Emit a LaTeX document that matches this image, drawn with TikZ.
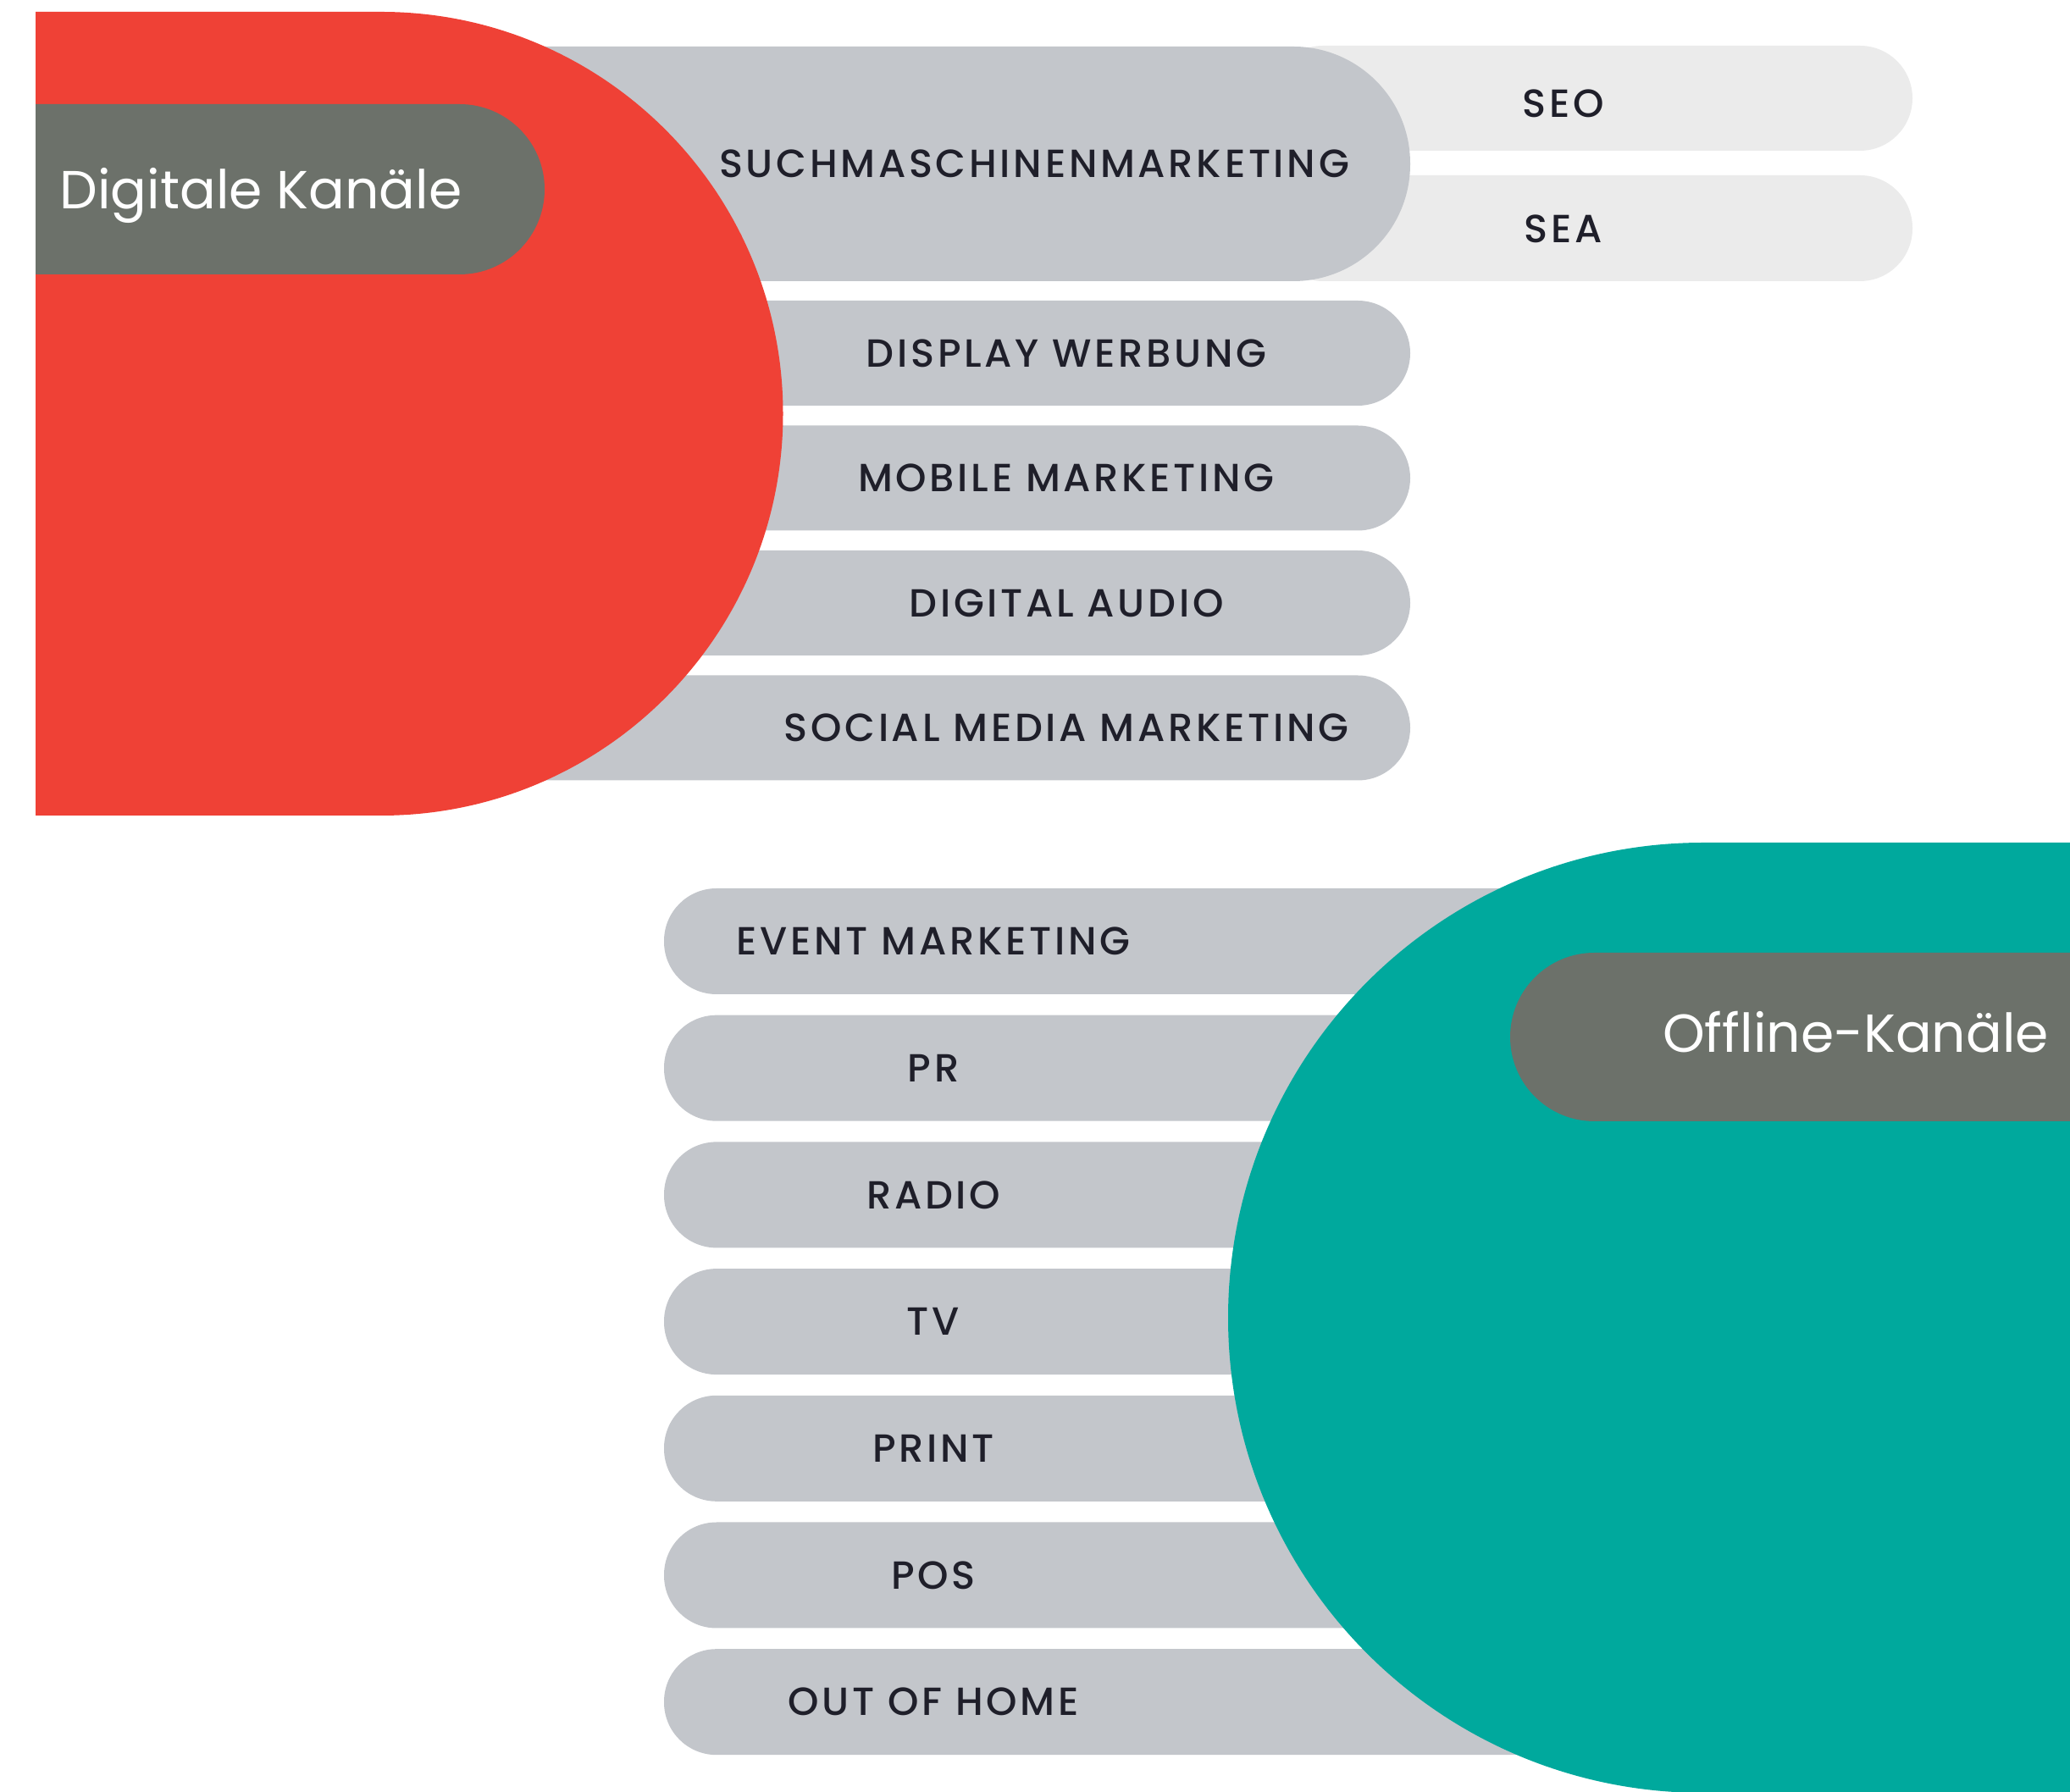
\documentclass[tikz,border=0pt]{standalone}
\usepackage{fontspec}
\setmainfont{Poppins}
\IfFontExistsTF{Poppins Medium}{\newfontfamily\itemfont{Poppins Medium}[LetterSpace=8]}{\newfontfamily\itemfont{Poppins}[LetterSpace=8]}
\usepackage{xcolor}
\usetikzlibrary{positioning}
\definecolor{KanalRed}{HTML}{EF4136}
\definecolor{KanalTeal}{HTML}{00A99D}
\definecolor{HeadGray}{HTML}{6C716A}
\definecolor{PillGray}{HTML}{C3C6CB}
\definecolor{PillLight}{HTML}{EBEBEB}
\definecolor{ItemText}{HTML}{1F1F2A}
\tikzset{
    pill/.style={
        fill=#1,
        rounded corners=0.62cm
    },
    pill/.default=PillGray,
    item/.style={
        font=\itemfont\fontsize{13.2}{16}\selectfont,
        text=ItemText,
        inner sep=0pt,
        anchor=center
    },
    head/.style={
        font=\fontsize{18}{22}\selectfont,
        text=white,
        inner sep=0pt,
        anchor=base
    }
}

\begin{document}
\begin{tikzpicture}
    \useasboundingbox (0,0) rectangle (24.44,21.15);

    % Digital channels: sub items of search marketing
    \fill[pill=PillLight] (15.00,19.37) rectangle (22.58,20.61);
    \fill[pill=PillLight] (15.00,17.83) rectangle (22.58,19.08);

    % Digital channels: items
    \fill[pill, rounded corners=1.38cm] (4.50,17.83) rectangle (16.65,20.60);
    \fill[pill] (4.50,16.36) rectangle (16.65,17.60);
    \fill[pill] (4.50,14.885) rectangle (16.65,16.125);
    \fill[pill] (4.50,13.41) rectangle (16.65,14.65);
    \fill[pill] (4.50,11.935) rectangle (16.65,13.175);

    % Digital channels: red half disc with heading
    \fill[KanalRed] (0.42,21.01) -- (4.50,21.01) arc[start angle=90, end angle=-90, radius=4.745] -- (0.42,11.52) -- cycle;
    \fill[HeadGray] (0.42,17.91) -- (5.425,17.91) arc[start angle=-90, end angle=90, radius=1.005] -- (0.42,19.92) -- cycle;

    \node[head] (digital) at (3.08,18.68) {Digitale Kanäle};
    \node[item] (sem) at (12.21,19.215) {SUCHMASCHINENMARKETING};
    \node[item] (seo) at (18.46,19.93) {SEO};
    \node[item] (sea) at (18.46,18.45) {SEA};
    \node[item] (display) at (12.59,16.98) {DISPLAY WERBUNG};
    \node[item] (mobile) at (12.59,15.505) {MOBILE MARKETING};
    \node[item] (audio) at (12.59,14.03) {DIGITAL AUDIO};
    \node[item] (social) at (12.59,12.555) {SOCIAL MEDIA MARKETING};

    % Offline channels: items
    \fill[pill] (7.84,9.41) rectangle (20.50,10.66);
    \fill[pill] (7.84,7.913) rectangle (20.50,9.163);
    \fill[pill] (7.84,6.416) rectangle (20.50,7.666);
    \fill[pill] (7.84,4.919) rectangle (20.50,6.169);
    \fill[pill] (7.84,3.422) rectangle (20.50,4.672);
    \fill[pill] (7.84,1.925) rectangle (20.50,3.175);
    \fill[pill] (7.84,0.428) rectangle (20.50,1.678);

    % Offline channels: teal half disc with heading
    \fill[KanalTeal] (24.44,11.20) -- (20.11,11.20) arc[start angle=90, end angle=270, radius=5.61] -- (24.44,-0.02) -- cycle;
    \fill[HeadGray] (24.44,9.90) -- (18.825,9.90) arc[start angle=90, end angle=270, radius=0.995] -- (24.44,7.91) -- cycle;

    \node[head] (offline) at (21.91,8.72) {Offline-Kanäle};
    \node[item] (event) at (11.02,10.035) {EVENT MARKETING};
    \node[item] (pr) at (11.02,8.538) {PR};
    \node[item] (radio) at (11.02,7.041) {RADIO};
    \node[item] (tv) at (11.02,5.544) {TV};
    \node[item] (print) at (11.02,4.047) {PRINT};
    \node[item] (pos) at (11.02,2.550) {POS};
    \node[item] (ooh) at (11.02,1.053) {OUT OF HOME};
\end{tikzpicture}
\end{document}
